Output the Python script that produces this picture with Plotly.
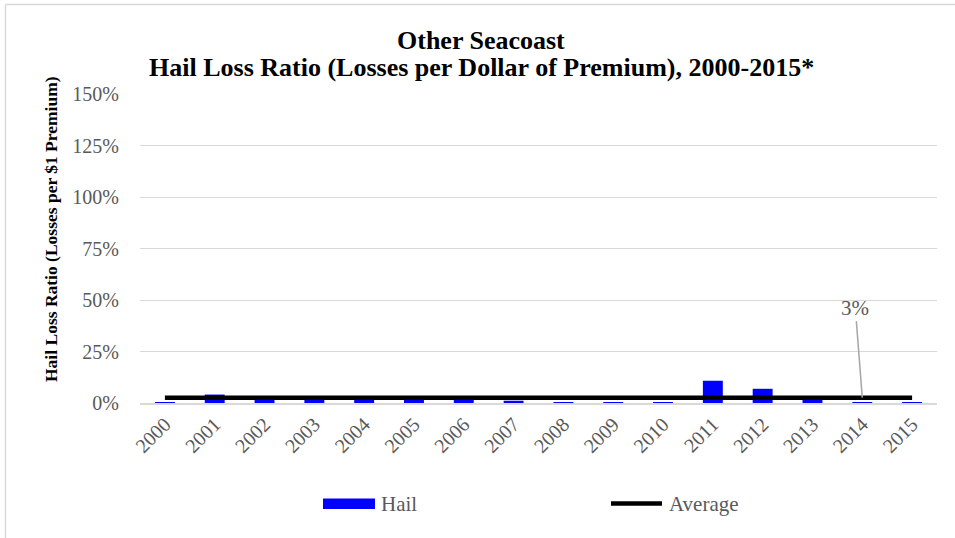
import plotly.graph_objects as go

years = [str(y) for y in range(2000, 2016)]
hail = [0.003, 0.041, 0.020, 0.020, 0.020, 0.020, 0.016, 0.011,
        0.001, 0.003, 0.002, 0.108, 0.069, 0.020, 0.004, 0.004]
average = [0.026] * 16
average_label = "3%"
label_year = "2014"
y_ticks = [0, 0.25, 0.5, 0.75, 1.0, 1.25, 1.5]
y_tick_labels = ["0%", "25%", "50%", "75%", "100%", "125%", "150%"]
title_lines = ["Other Seacoast",
               "Hail Loss Ratio (Losses per Dollar of Premium), 2000-2015*"]
y_title = "Hail Loss Ratio (Losses per $1 Premium)"
legend_names = ["Hail", "Average"]

W, H = 955, 538
L, R, T, B = 140, 18, 94, 135
pw, ph = W - L - R, H - T - B


def px_x(p):
    return (p - L) / pw


def px_y(p):
    return (H - B - p) / ph


serif = "Liberation Serif, Times New Roman, serif"
grey = "#595959"
light = "#d9d9d9"
blue = "#0000FF"

fig = go.Figure()
fig.add_trace(go.Bar(x=years, y=hail, name=legend_names[0], marker_color=blue,
                     marker_line_width=0, showlegend=False))
fig.add_trace(go.Scatter(x=years, y=average, name=legend_names[1], mode="lines",
                         line=dict(color="black", width=4.5), showlegend=False))

li = years.index(label_year)
annotations = [
    dict(x=px_x(481), y=px_y(40), xref="paper", yref="paper", text=f"<b>{title_lines[0]}</b>",
         showarrow=False, xanchor="center", yanchor="middle",
         font=dict(family=serif, size=26, color="black")),
    dict(x=px_x(481), y=px_y(68), xref="paper", yref="paper", text=f"<b>{title_lines[1]}</b>",
         showarrow=False, xanchor="center", yanchor="middle",
         font=dict(family=serif, size=26, color="black")),
    dict(x=px_x(51), y=px_y(229), xref="paper", yref="paper", text=f"<b>{y_title}</b>",
         showarrow=False, textangle=-90, xanchor="center", yanchor="middle",
         font=dict(family=serif, size=17.5, color="black")),
    dict(x=li, y=average[li], xref="x", yref="y",
         text=average_label, showarrow=True, arrowhead=0, arrowwidth=1.5,
         arrowcolor="#a6a6a6", ax=-7, ay=-90, standoff=0,
         font=dict(family=serif, size=21, color=grey)),
    dict(x=px_x(379), y=px_y(503.5), xref="paper", yref="paper", text=legend_names[0],
         showarrow=False, xanchor="left", yanchor="middle",
         font=dict(family=serif, size=21, color=grey)),
    dict(x=px_x(667), y=px_y(503.5), xref="paper", yref="paper", text=legend_names[1],
         showarrow=False, xanchor="left", yanchor="middle",
         font=dict(family=serif, size=21, color=grey)),
]

shapes = [
    dict(type="line", xref="paper", yref="paper",
         x0=px_x(5.5), x1=px_x(960), y0=px_y(4.5), y1=px_y(4.5),
         line=dict(color=light, width=1.5)),
    dict(type="line", xref="paper", yref="paper",
         x0=px_x(5.5), x1=px_x(5.5), y0=px_y(4.5), y1=px_y(545),
         line=dict(color=light, width=1.5)),
    dict(type="rect", xref="paper", yref="paper",
         x0=px_x(323), x1=px_x(375), y0=px_y(509), y1=px_y(498.5),
         fillcolor=blue, line=dict(width=0)),
    dict(type="line", xref="paper", yref="paper",
         x0=px_x(611), x1=px_x(662), y0=px_y(503.5), y1=px_y(503.5),
         line=dict(color="black", width=4.5)),
]

fig.update_layout(
    width=W, height=H,
    margin=dict(l=L, r=R, t=T, b=B, autoexpand=False),
    paper_bgcolor="white", plot_bgcolor="white",
    font=dict(family=serif, color=grey, size=20),
    bargap=0.6,
    showlegend=False,
    xaxis=dict(type="category", tickangle=-45, showgrid=False, automargin=False,
               showline=True, linecolor=light, linewidth=1.5,
               ticks="", tickfont=dict(family=serif, size=20, color=grey),
               range=[-0.5, 15.5]),
    yaxis=dict(range=[0, 1.5], tickvals=y_ticks, ticktext=y_tick_labels,
               showgrid=True, gridcolor=light, gridwidth=1, automargin=False,
               zeroline=False, showline=False, ticks="", ticklabelstandoff=20,
               tickfont=dict(family=serif, size=20, color=grey)),
    shapes=shapes,
    annotations=annotations,
)

fig.write_html("out.html", config={"displayModeBar": False},
               post_script="document.body.style.margin='0px';")
